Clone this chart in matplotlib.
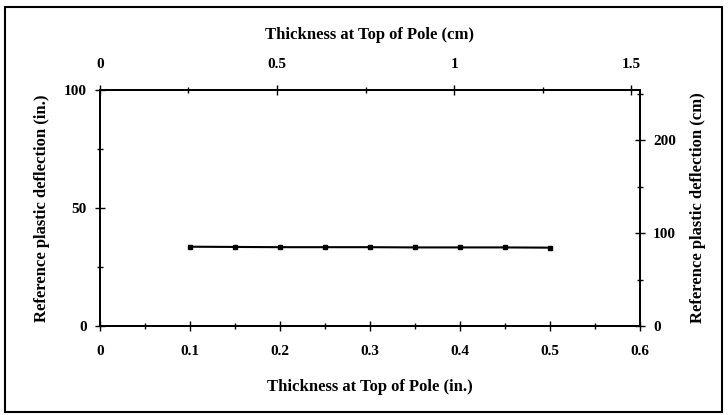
import matplotlib
matplotlib.use("Agg")
from matplotlib import pyplot as plt
from matplotlib.ticker import MultipleLocator
from matplotlib.patches import Rectangle

thickness_in = [0.1, 0.15, 0.2, 0.25, 0.3, 0.35, 0.4, 0.45, 0.5]
deflection_in = [33.6, 33.5, 33.4, 33.4, 33.4, 33.3, 33.3, 33.3, 33.2]

plt.rcParams['font.family'] = ['Liberation Serif', 'DejaVu Serif']
plt.rcParams['font.weight'] = 'bold'

fig = plt.figure(figsize=(7.28, 4.15), dpi=100)
ax = fig.add_axes([0.137, 0.2145, 0.742, 0.5685])

ax.plot(thickness_in, deflection_in, 's-', color='black', ms=3.5, lw=1.5)
ax.set_xlim(0, 0.6)
ax.set_ylim(0, 100)
ax.xaxis.set_major_locator(MultipleLocator(0.1))
ax.xaxis.set_minor_locator(MultipleLocator(0.05))
ax.yaxis.set_major_locator(MultipleLocator(50))
ax.yaxis.set_minor_locator(MultipleLocator(25))
ax.xaxis.set_major_formatter(lambda v, p: '0' if v == 0 else f'{v:.1f}')
ax.set_xlabel('Thickness at Top of Pole (in.)', fontsize=12, fontweight='bold', labelpad=15)
ax.set_ylabel('Reference plastic deflection (in.)', fontsize=12, fontweight='bold', labelpad=10)

# top axis in cm
top = ax.twiny()
top.set_xlim(0, 0.6 * 2.54)
top.xaxis.set_major_locator(MultipleLocator(0.5))
top.xaxis.set_minor_locator(MultipleLocator(0.25))
top.xaxis.set_major_formatter(lambda v, p: f'{v:g}')
top.set_xlabel('Thickness at Top of Pole (cm)', fontsize=12, fontweight='bold', labelpad=14)

# right axis in cm
right = ax.twinx()
right.set_ylim(0, 100 * 2.54)
right.yaxis.set_major_locator(MultipleLocator(100))
right.yaxis.set_minor_locator(MultipleLocator(50))
right.set_ylabel('Reference plastic deflection (cm)', fontsize=12, fontweight='bold', labelpad=10)

for a in (ax, top, right):
    a.tick_params(which='both', direction='inout', width=1, labelsize=11)
    a.tick_params(which='major', length=7, pad=10)
    a.tick_params(which='minor', length=5)
    for s in a.spines.values():
        s.set_linewidth(1.2)
    for lab in a.get_xticklabels() + a.get_yticklabels():
        lab.set_fontweight('bold')
ax.tick_params(axis='y', which='major', pad=6)
right.tick_params(axis='y', which='major', pad=6)

fig.patches.append(Rectangle((0.007, 0.007), 0.985, 0.975, transform=fig.transFigure,
                             fill=False, edgecolor='black', lw=1.5))

fig.savefig('out.png', dpi=100)
